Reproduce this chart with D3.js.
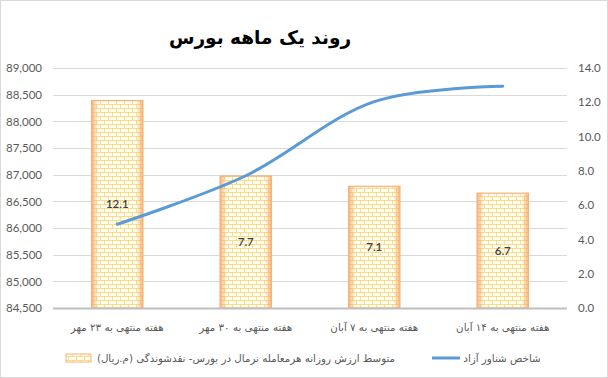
<!DOCTYPE html>
<html><head><meta charset="utf-8">
<script src="https://cdn.jsdelivr.net/npm/d3@7"></script>
<style>
html,body{margin:0;padding:0;background:#fff;}
svg{display:block;}
</style></head>
<body>
<svg id="chart" width="608" height="378"></svg>
<script>
const categories = ["هفته منتهی به ۲۳ مهر", "هفته منتهی به ۳۰ مهر", "هفته منتهی به ۷ آبان", "هفته منتهی به ۱۴ آبان"];
const barValues = [12.1, 7.7, 7.1, 6.7];
const lineValues = [86070, 86980, 88370, 88660];
const leftTicks = [84500, 85000, 85500, 86000, 86500, 87000, 87500, 88000, 88500, 89000];
const rightTicks = [0, 2, 4, 6, 8, 10, 12, 14];
const titleText = "روند یک ماهه بورس";
const barSeriesName = "متوسط ارزش روزانه هرمعامله نرمال در بورس- نقدشوندگی (م.ریال)";
const lineSeriesName = "شاخص شناور آزاد";

const svg = d3.select("#chart");
const L = 53, R = 567, T = 68, B = 308;
const numFont = "Lato, 'Open Sans', sans-serif";
const faFont = "'DejaVu Sans', sans-serif";

svg.append("rect").attr("x",0.5).attr("y",0.5).attr("width",607).attr("height",377)
  .attr("fill","#fff").attr("stroke","#d9d9d9");

const defs = svg.append("defs");
const pat = defs.append("pattern").attr("id","brick").attr("patternUnits","userSpaceOnUse")
  .attr("width",8).attr("height",8).attr("x",0).attr("y",0);
pat.append("rect").attr("width",8).attr("height",8).attr("fill","#fffdf4");
pat.append("path").attr("d","M0,0.5H8M0,4.5H8M0.5,0.5V4.5M4.5,4.5V8.5")
  .attr("stroke","#fbd979").attr("stroke-width",0.9).attr("fill","none");
const gh = defs.append("linearGradient").attr("id","edgeH").attr("x1","0").attr("x2","1").attr("y1","0").attr("y2","0");
gh.append("stop").attr("offset","0").attr("stop-color","#f4a460").attr("stop-opacity",0.8);
gh.append("stop").attr("offset","0.13").attr("stop-color","#f4a460").attr("stop-opacity",0);
gh.append("stop").attr("offset","0.87").attr("stop-color","#f4a460").attr("stop-opacity",0);
gh.append("stop").attr("offset","1").attr("stop-color","#f4a460").attr("stop-opacity",0.8);

const x = d3.scaleBand().domain(categories).range([L, R]).paddingInner(0.6).paddingOuter(0.3);
const yL = d3.scaleLinear().domain([84500, 89000]).range([B, T]);
const yR = d3.scaleLinear().domain([0, 14]).range([B, T]);

// gridlines
svg.append("g").selectAll("line").data(leftTicks.slice(1)).join("line")
  .attr("x1",L).attr("x2",R).attr("y1",d=>Math.round(yL(d))+0.5).attr("y2",d=>Math.round(yL(d))+0.5)
  .attr("stroke","#d9d9d9").attr("stroke-width",1);

// left axis
const axL = svg.append("g").attr("transform",`translate(${L},0)`)
  .call(d3.axisLeft(yL).tickValues(leftTicks).tickFormat(d3.format(",")).tickSize(0).tickPadding(11));
axL.select(".domain").remove();
axL.selectAll("text").attr("font-family",numFont).attr("font-size",11.5).attr("fill","#595959");

// right axis
const axR = svg.append("g").attr("transform",`translate(${R},0)`)
  .call(d3.axisRight(yR).tickValues(rightTicks).tickFormat(d3.format(".1f")).tickSize(0).tickPadding(11));
axR.select(".domain").remove();
axR.selectAll("text").attr("font-family",numFont).attr("font-size",11.5).attr("fill","#595959");

// bars
const bars = svg.append("g").selectAll("g").data(barValues).join("g");
bars.append("rect")
  .attr("x",(d,i)=>x(categories[i])).attr("width",x.bandwidth())
  .attr("y",d=>yR(d)).attr("height",d=>B-yR(d))
  .attr("fill","url(#brick)");
bars.append("rect")
  .attr("x",(d,i)=>x(categories[i])).attr("width",x.bandwidth())
  .attr("y",d=>yR(d)).attr("height",d=>B-yR(d))
  .attr("fill","url(#edgeH)").attr("stroke","#f6b27c").attr("stroke-width",1.2);

// bottom axis line
svg.append("line").attr("x1",L).attr("x2",R).attr("y1",B+0.5).attr("y2",B+0.5)
  .attr("stroke","#bfbfbf").attr("stroke-width",2);

// line
const line = d3.line().x((d,i)=>x(categories[i])+x.bandwidth()/2).y(d=>yL(d)).curve(d3.curveCatmullRom.alpha(0.5));
svg.append("path").datum(lineValues).attr("d",line).attr("fill","none")
  .attr("stroke","#5b9bd5").attr("stroke-width",3).attr("stroke-linecap","round");

// data labels
svg.append("g").selectAll("text").data(barValues).join("text")
  .attr("x",(d,i)=>x(categories[i])+x.bandwidth()/2)
  .attr("y",d=>(yR(d)+B)/2).attr("dy","0.35em").attr("text-anchor","middle")
  .attr("font-family",numFont).attr("font-size",11.5).attr("font-weight",600).attr("fill","#404040")
  .text(d=>d.toFixed(1));

// category labels
svg.append("g").selectAll("text").data(categories).join("text")
  .attr("x",d=>x(d)+x.bandwidth()/2).attr("y",331)
  .attr("text-anchor","middle").attr("direction","rtl")
  .attr("font-family",faFont).attr("font-size",10.3).attr("fill","#595959")
  .text(d=>d);

// title
svg.append("text").attr("x",260).attr("y",44).attr("text-anchor","middle").attr("direction","rtl")
  .attr("font-family",faFont).attr("font-weight","bold").attr("font-size",18.5).attr("fill","#000")
  .text(titleText);

// legend
const lg = svg.append("g");
lg.append("rect").attr("x",66).attr("y",354).attr("width",25).attr("height",8)
  .attr("fill","url(#brick)").attr("stroke","#f6b27c").attr("stroke-width",1);
lg.append("text").attr("x",246).attr("y",362).attr("text-anchor","middle").attr("direction","rtl")
  .attr("font-family",faFont).attr("font-size",10.3).attr("fill","#595959").text(barSeriesName);
lg.append("line").attr("x1",432).attr("x2",460).attr("y1",358).attr("y2",358)
  .attr("stroke","#5b9bd5").attr("stroke-width",3);
lg.append("text").attr("x",502).attr("y",362).attr("text-anchor","middle").attr("direction","rtl")
  .attr("font-family",faFont).attr("font-size",10.3).attr("fill","#595959").text(lineSeriesName);
</script>
</body></html>
